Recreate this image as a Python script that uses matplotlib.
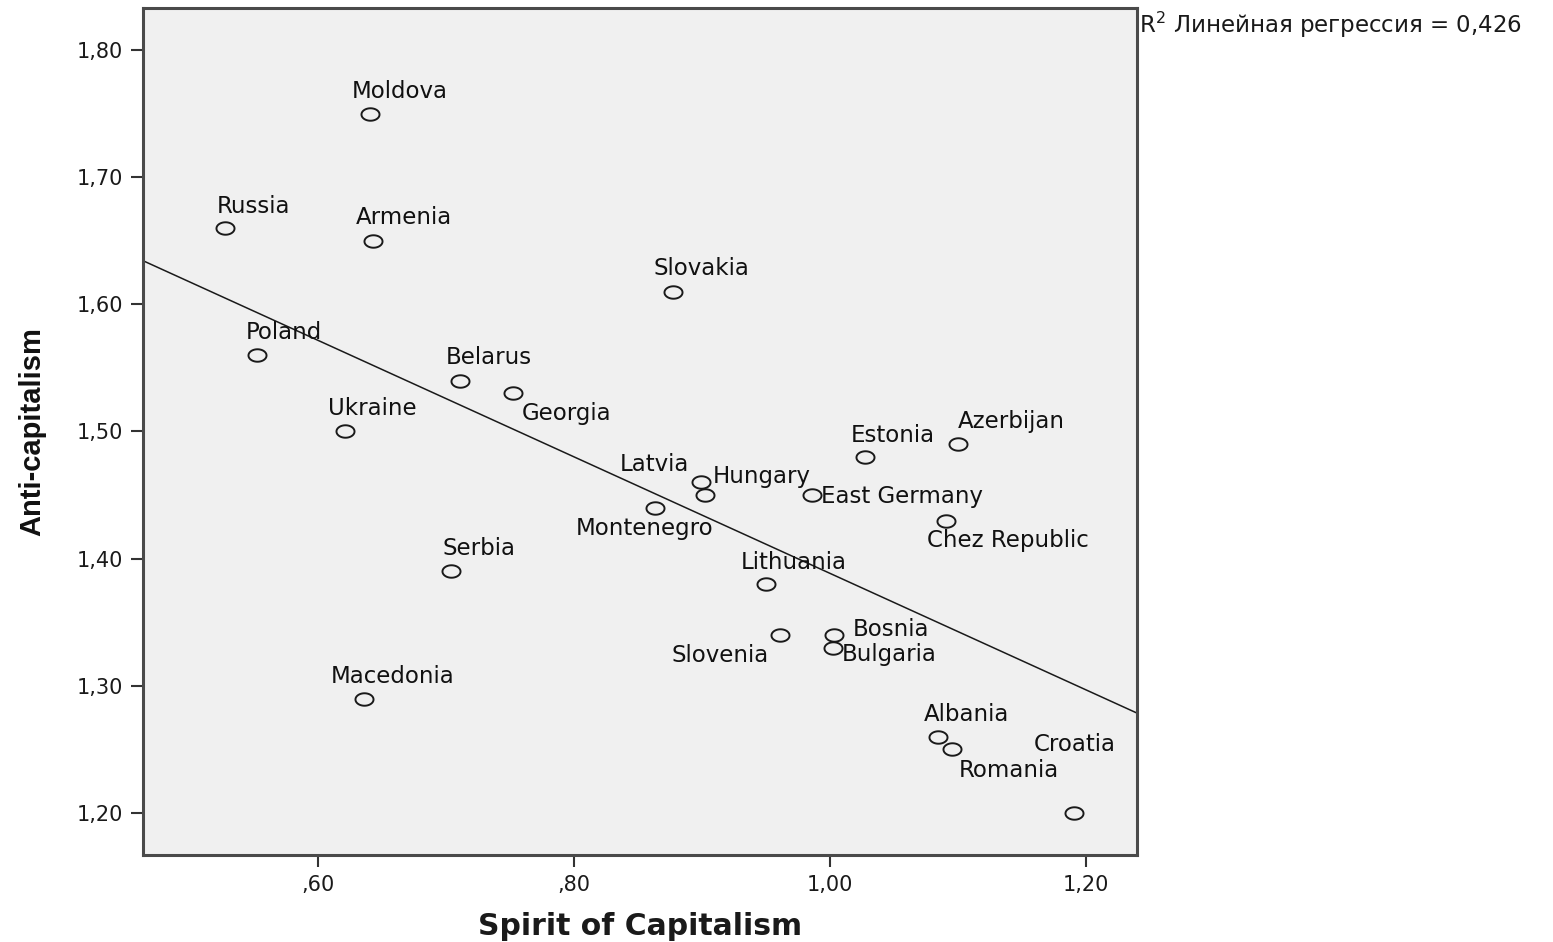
import numpy as np
import matplotlib
matplotlib.use("Agg")
import matplotlib.pyplot as plt
from matplotlib.path import Path
from matplotlib.ticker import FuncFormatter

countries = ["Moldova", "Russia", "Armenia", "Slovakia", "Poland", "Belarus",
             "Georgia", "Ukraine", "Estonia", "Azerbijan", "Latvia", "Hungary",
             "East Germany", "Montenegro", "Chez Republic", "Serbia", "Lithuania",
             "Slovenia", "Bosnia", "Bulgaria", "Macedonia", "Albania", "Romania",
             "Croatia"]
spirit = [0.641, 0.527, 0.643, 0.877, 0.552, 0.711,
          0.752, 0.621, 1.027, 1.100, 0.899, 0.902,
          0.986, 0.863, 1.091, 0.704, 0.950,
          0.961, 1.003, 1.002, 0.636, 1.084, 1.095,
          1.191]
anti = [1.75, 1.66, 1.65, 1.61, 1.56, 1.54,
        1.53, 1.50, 1.48, 1.49, 1.46, 1.45,
        1.45, 1.44, 1.43, 1.39, 1.38,
        1.34, 1.34, 1.33, 1.29, 1.26, 1.25,
        1.20]
r2_text = r"R$^2$ Линейная регрессия = 0,426"

# label offsets in pixels (layout only)
offsets = {
    "Moldova": (29, 22), "Russia": (29, 22), "Armenia": (31, 23),
    "Slovakia": (29, 23), "Poland": (27, 23), "Belarus": (29, 23),
    "Georgia": (54, -20), "Ukraine": (27, 23), "Estonia": (28, 21),
    "Azerbijan": (53, 23), "Latvia": (-46, 18), "Hungary": (57, 19),
    "East Germany": (90, -1), "Montenegro": (-10, -21),
    "Chez Republic": (61, -20), "Serbia": (28, 23), "Lithuania": (28, 22),
    "Slovenia": (-60, -21), "Bosnia": (57, 5), "Bulgaria": (57, -7),
    "Macedonia": (29, 22), "Albania": (29, 22), "Romania": (57, -21),
    "Croatia": (0, 68),
}

fig = plt.figure(figsize=(15.53, 9.42), dpi=100)
ax = fig.add_axes([0.0921, 0.0924, 0.7321 - 0.0921, 0.9915 - 0.0924])
ax.set_facecolor("#f0f0f0")

t = np.linspace(0, 2 * np.pi, 60)
ellipse = Path(np.column_stack([1.45 * np.cos(t), np.sin(t)]), closed=True)

ax.plot(spirit, anti, linestyle="none", marker=ellipse, markersize=13,
        markerfacecolor="none", markeredgecolor="#1a1a1a", markeredgewidth=1.4,
        zorder=3)

xlim = (0.4633, 1.2398)
ylim = (1.167, 1.833)
slope, intercept = np.polyfit(spirit, anti, 1)
xs = np.array(xlim)
ax.plot(xs, intercept + slope * xs, color="#1a1a1a", linewidth=1.1, zorder=2)

for name, x, y in zip(countries, spirit, anti):
    ax.annotate(name, (x, y), xytext=offsets[name], textcoords="offset pixels",
                ha="center", va="center", fontsize=16.5, color="#111111",
                family="DejaVu Sans", zorder=4)

ax.set_xlim(xlim)
ax.set_ylim(ylim)
ax.set_xticks([0.6, 0.8, 1.0, 1.2])
ax.set_yticks([1.2, 1.3, 1.4, 1.5, 1.6, 1.7, 1.8])


def fmt(v, pos):
    s = f"{v:.2f}".replace(".", ",")
    if s.startswith("0,"):
        s = s[1:]
    return s


ax.xaxis.set_major_formatter(FuncFormatter(fmt))
ax.yaxis.set_major_formatter(FuncFormatter(fmt))
ax.tick_params(axis="both", direction="out", length=8.5, width=1.5,
               color="#333333", labelsize=15, labelcolor="#1a1a1a", pad=6)
ax.tick_params(top=False, right=False)
for lab in ax.get_xticklabels() + ax.get_yticklabels():
    lab.set_family("DejaVu Sans")
for sp in ax.spines.values():
    sp.set_color("#4a4a4a")
    sp.set_linewidth(2.2)

ax.set_xlabel("Spirit of Capitalism", fontsize=21.5, fontweight="bold",
              family="DejaVu Sans", labelpad=12, color="#1a1a1a")
ax.set_ylabel("Anti-capitalism", fontsize=21, fontweight="bold",
              family="Liberation Sans", labelpad=22, color="#111111")

fig.text(1139 / 1553, 1 - 25 / 942, r2_text, fontsize=16.5, va="center",
         ha="left", family="DejaVu Sans", color="#1a1a1a")

fig.savefig("out.png", dpi=100, facecolor="white")
